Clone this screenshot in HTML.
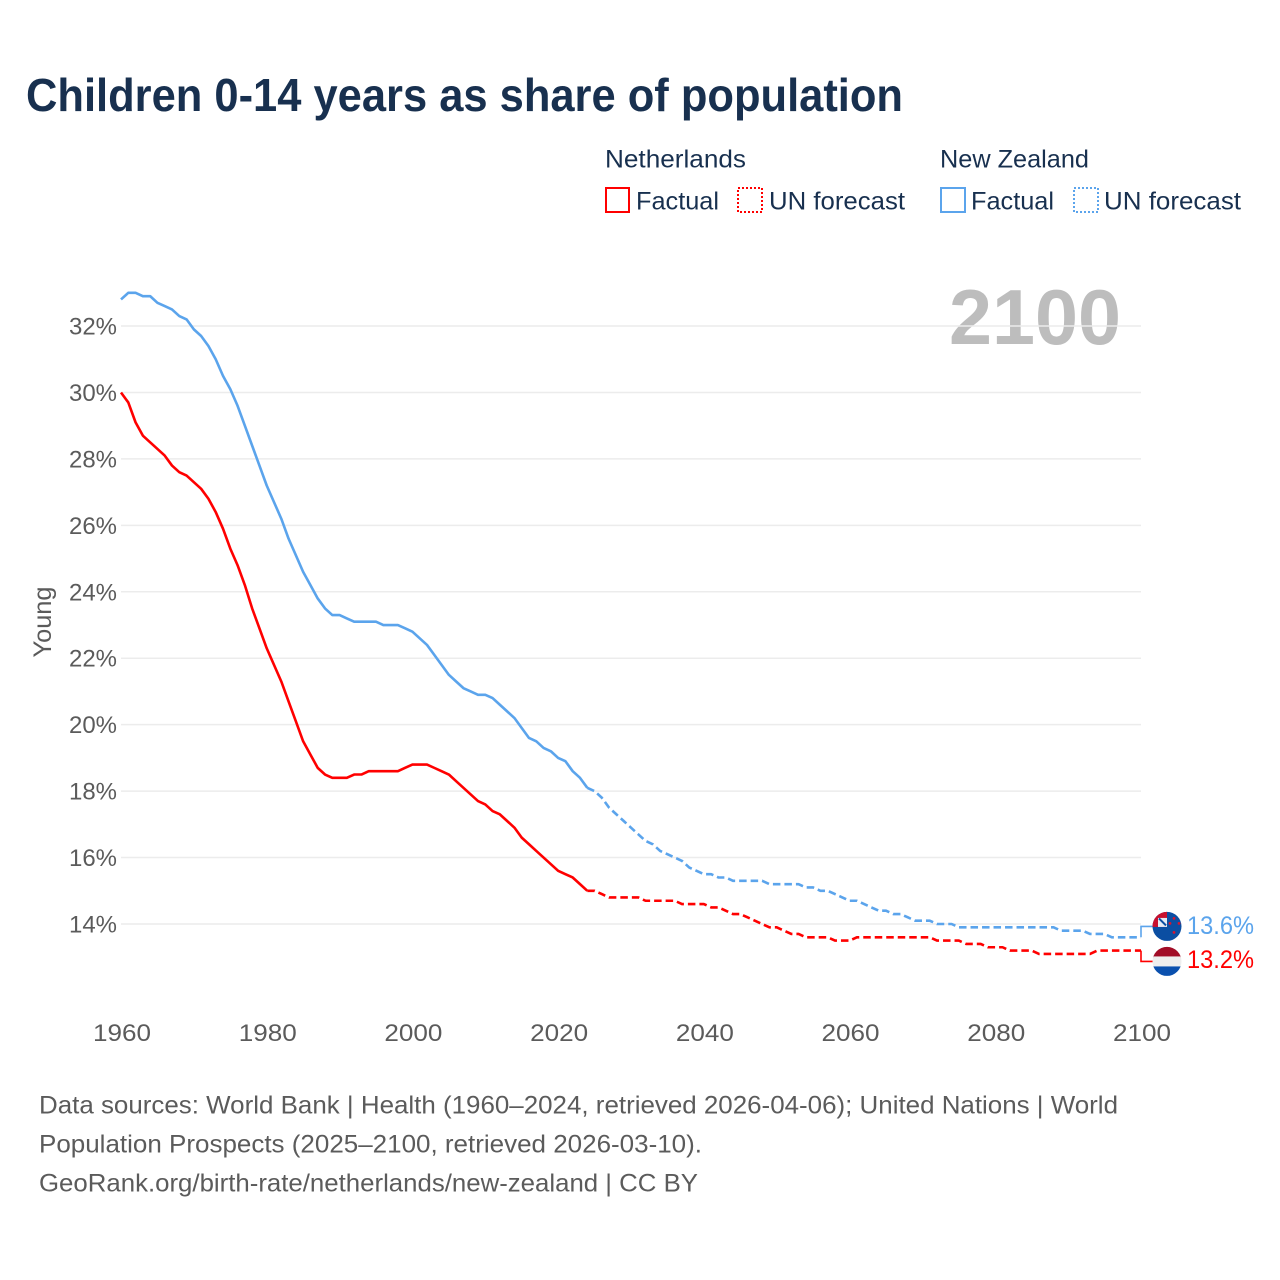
<!DOCTYPE html>
<html lang="en">
<head>
<meta charset="utf-8">
<title>Children 0-14 years as share of population</title>
<style>
  html, body { margin: 0; padding: 0; background: #fff; }
  svg { display: block; font-family: "Liberation Sans", sans-serif; }
</style>
</head>
<body>
<svg id="chart" xmlns="http://www.w3.org/2000/svg" width="1280" height="1280" viewBox="0 0 1280 1280">
  <defs>
    <clipPath id="clip-nz"><circle id="clip-nz-circle" cx="1167" cy="926" r="14.5"></circle></clipPath>
    <clipPath id="clip-nl"><circle id="clip-nl-circle" cx="1167" cy="960" r="14.5"></circle></clipPath>
  </defs>
  <rect width="1280" height="1280" fill="#ffffff"></rect>
  <text x="26" y="111" font-size="46" font-weight="700" fill="#18304f" textLength="877" lengthAdjust="spacingAndGlyphs">Children 0-14 years as share of population</text>

  <g font-size="25" fill="#18304f">
    <text x="605" y="167.5" textLength="141" lengthAdjust="spacingAndGlyphs">Netherlands</text>
    <text x="940" y="167.5" textLength="149" lengthAdjust="spacingAndGlyphs">New Zealand</text>
    <rect x="606" y="188" width="23" height="24" fill="none" stroke="#ff0000" stroke-width="2"></rect>
    <text x="636" y="209.5" textLength="83" lengthAdjust="spacingAndGlyphs">Factual</text>
    <rect x="738" y="188" width="24" height="24" fill="none" stroke="#ff0000" stroke-width="2" stroke-dasharray="2 2"></rect>
    <text x="769" y="209.5" textLength="136" lengthAdjust="spacingAndGlyphs">UN forecast</text>
    <rect x="941" y="188" width="24" height="24" fill="none" stroke="#5ba4ec" stroke-width="2"></rect>
    <text x="971" y="209.5" textLength="83" lengthAdjust="spacingAndGlyphs">Factual</text>
    <rect x="1074" y="188" width="24" height="24" fill="none" stroke="#5ba4ec" stroke-width="2" stroke-dasharray="2 2"></rect>
    <text x="1104" y="209.5" textLength="137" lengthAdjust="spacingAndGlyphs">UN forecast</text>
  </g>

  <text transform="translate(51 622) rotate(-90)" text-anchor="middle" font-size="25" fill="#5b5b5b" textLength="71" lengthAdjust="spacingAndGlyphs">Young</text>
  <text x="949" y="344" font-size="78" font-weight="700" fill="#bdbdbd" textLength="172" lengthAdjust="spacingAndGlyphs">2100</text>

  <g id="grid"></g>
  <g id="y-ticks" font-size="24" fill="#5b5b5b"></g>
  <g id="x-ticks" font-size="24" fill="#5b5b5b"></g>
  <g id="series"></g>

  <g id="flag-nz" clip-path="url(#clip-nz)"></g>
  <g id="flag-nl" clip-path="url(#clip-nl)"></g>
  <g id="end-labels" font-size="25"></g>

  <g font-size="25" fill="#5b5b5b">
    <text x="39" y="1113.5" textLength="1079" lengthAdjust="spacingAndGlyphs">Data sources: World Bank | Health (1960–2024, retrieved 2026-04-06); United Nations | World</text>
    <text x="39" y="1152.5" textLength="663" lengthAdjust="spacingAndGlyphs">Population Prospects (2025–2100, retrieved 2026-03-10).</text>
    <text x="39" y="1191.5" textLength="659" lengthAdjust="spacingAndGlyphs">GeoRank.org/birth-rate/netherlands/new-zealand | CC BY</text>
  </g>
</svg>

<script>
const xTickYears = [1960, 1980, 2000, 2020, 2040, 2060, 2080, 2100];
const yTickValues = [14, 16, 18, 20, 22, 24, 26, 28, 30, 32];
const factualStartYear = 1960;
const forecastStartYear = 2024;

// 1960..2024
const netherlandsFactual = [
  30.0,29.7,29.1,28.7,28.5,28.3,28.1,27.8,27.6,27.5,
  27.3,27.1,26.8,26.4,25.9,25.3,24.8,24.2,23.5,22.9,
  22.3,21.8,21.3,20.7,20.1,19.5,19.1,18.7,18.5,18.4,
  18.4,18.4,18.5,18.5,18.6,18.6,18.6,18.6,18.6,18.7,
  18.8,18.8,18.8,18.7,18.6,18.5,18.3,18.1,17.9,17.7,
  17.6,17.4,17.3,17.1,16.9,16.6,16.4,16.2,16.0,15.8,
  15.6,15.5,15.4,15.2,15.0
];
// 2024..2100
const netherlandsForecast = [
  15.0,15.0,14.9,14.8,14.8,14.8,14.8,14.8,14.7,14.7,14.7,14.7,14.7,
  14.6,14.6,14.6,14.6,14.5,14.5,14.4,14.3,14.3,14.2,14.1,14.0,13.9,
  13.9,13.8,13.7,13.7,13.6,13.6,13.6,13.6,13.5,13.5,13.5,13.6,13.6,
  13.6,13.6,13.6,13.6,13.6,13.6,13.6,13.6,13.6,13.5,13.5,13.5,13.5,
  13.4,13.4,13.4,13.3,13.3,13.3,13.2,13.2,13.2,13.2,13.1,13.1,13.1,
  13.1,13.1,13.1,13.1,13.1,13.2,13.2,13.2,13.2,13.2,13.2,13.2
];
// 1960..2024
const newZealandFactual = [
  32.8,33.0,33.0,32.9,32.9,32.7,32.6,32.5,32.3,32.2,
  31.9,31.7,31.4,31.0,30.5,30.1,29.6,29.0,28.4,27.8,
  27.2,26.7,26.2,25.6,25.1,24.6,24.2,23.8,23.5,23.3,
  23.3,23.2,23.1,23.1,23.1,23.1,23.0,23.0,23.0,22.9,
  22.8,22.6,22.4,22.1,21.8,21.5,21.3,21.1,21.0,20.9,
  20.9,20.8,20.6,20.4,20.2,19.9,19.6,19.5,19.3,19.2,
  19.0,18.9,18.6,18.4,18.1
];
// 2024..2100
const newZealandForecast = [
  18.1,18.0,17.8,17.5,17.3,17.1,16.9,16.7,16.5,16.4,16.2,16.1,16.0,
  15.9,15.7,15.6,15.5,15.5,15.4,15.4,15.3,15.3,15.3,15.3,15.3,15.2,
  15.2,15.2,15.2,15.2,15.1,15.1,15.0,15.0,14.9,14.8,14.7,14.7,14.6,
  14.5,14.4,14.4,14.3,14.3,14.2,14.1,14.1,14.1,14.0,14.0,14.0,13.9,
  13.9,13.9,13.9,13.9,13.9,13.9,13.9,13.9,13.9,13.9,13.9,13.9,13.9,
  13.8,13.8,13.8,13.8,13.7,13.7,13.7,13.6,13.6,13.6,13.6,13.6
];

const SVG_NS = 'http://www.w3.org/2000/svg';
const plotLeft = 121, plotRight = 1141;
const xScale = function (year) { return plotLeft + (year - 1960) * (plotRight - plotLeft) / 140; };
const yScale = function (value) { return 924 - (value - 14) * 33.22; };

function make(tag, parent, attrs) {
  const el = document.createElementNS(SVG_NS, tag);
  for (const key in attrs) el.setAttribute(key, attrs[key]);
  parent.appendChild(el);
  return el;
}

const gridGroup = document.getElementById('grid');
const yTickGroup = document.getElementById('y-ticks');
yTickValues.forEach(function (value) {
  const y = yScale(value);
  const line = make('line', gridGroup, { x1: plotLeft, x2: plotRight, y1: y, y2: y, stroke: '#ececec', 'stroke-width': 1.5 });
  
  
  const label = make('text', yTickGroup, { x: 117, y: y + 8.5, 'text-anchor': 'end', textLength: 48, lengthAdjust: 'spacingAndGlyphs' });
  
  
  label.textContent = value + '%';
});

const xTickGroup = document.getElementById('x-ticks');
xTickYears.forEach(function (year) {
  const label = make('text', xTickGroup, { x: xScale(year) + 1, y: 1041, 'text-anchor': 'middle', textLength: 58, lengthAdjust: 'spacingAndGlyphs' });
  
  
  label.textContent = year;
});

function linePath(values, startYear) {
  return values.map(function (value, i) {
    return (i ? 'L' : 'M') + xScale(startYear + i).toFixed(2) + ' ' + yScale(value).toFixed(2);
  }).join(' ');
}

const seriesGroup = document.getElementById('series');
function drawSeries(values, startYear, color, dash, name) {
  const attrs = { d: linePath(values, startYear), fill: 'none', stroke: color, 'stroke-width': 2.6, 'stroke-linejoin': 'round' };
  if (dash) attrs['stroke-dasharray'] = dash;
  const path = make('path', seriesGroup, attrs);
  
  
}
const nlColor = '#ff0000', nzColor = '#5ba4ec';
drawSeries(newZealandFactual, factualStartYear, nzColor, null, 'line-new-zealand-factual');
drawSeries(newZealandForecast, forecastStartYear, nzColor, '7.5 4', 'line-new-zealand-forecast');
drawSeries(netherlandsFactual, factualStartYear, nlColor, null, 'line-netherlands-factual');
drawSeries(netherlandsForecast, forecastStartYear, nlColor, '7.5 4', 'line-netherlands-forecast');

const nzLast = newZealandForecast[newZealandForecast.length - 1];
const nlLast = netherlandsForecast[netherlandsForecast.length - 1];
const nzEndY = yScale(nzLast), nlEndY = yScale(nlLast);
const midEnd = (nzEndY + nlEndY) / 2;
const nzTop = nzEndY <= nlEndY;
const nzLabelY = midEnd + (nzTop ? -17.5 : 17.5);
const nlLabelY = midEnd + (nzTop ? 17.5 : -17.5);

function connector(endY, labelY, color, name) {
  const path = make('path', seriesGroup, {
    d: 'M' + plotRight + ' ' + endY.toFixed(2) + ' V' + labelY.toFixed(2) + ' H1153',
    fill: 'none', stroke: color, 'stroke-width': 1.6
  });
  
  
}
connector(nzEndY, nzLabelY, nzColor, 'connector-new-zealand');
connector(nlEndY, nlLabelY, nlColor, 'connector-netherlands');

document.getElementById('clip-nz-circle').setAttribute('cy', nzLabelY);
document.getElementById('clip-nl-circle').setAttribute('cy', nlLabelY);

const nzFlag = document.getElementById('flag-nz');
const fx = 1152, nzy = nzLabelY - 15;
make('rect', nzFlag, { x: fx, y: nzy, width: 30, height: 31, fill: '#0b4ea2' });
make('rect', nzFlag, { x: fx, y: nzy, width: 15, height: 15.5, fill: '#c8102e' });
make('rect', nzFlag, { x: fx + 6, y: nzy + 6.5, width: 9, height: 9, fill: '#e6ebf4' });
make('path', nzFlag, { d: 'M' + (fx + 7) + ' ' + (nzy + 7) + ' l7 7', stroke: '#0b4ea2', 'stroke-width': 2, fill: 'none' });
[[18, 12], [27, 12], [22, 7], [22, 21]].forEach(function (s) {
  make('circle', nzFlag, { cx: fx + s[0], cy: nzy + s[1], r: 1.4, fill: '#d8152f' });
});

const nlFlag = document.getElementById('flag-nl');
const nly = nlLabelY - 15;
make('rect', nlFlag, { x: fx, y: nly, width: 30, height: 11, fill: '#a20d27' });
make('rect', nlFlag, { x: fx, y: nly + 10, width: 30, height: 11, fill: '#eeeeee' });
make('rect', nlFlag, { x: fx, y: nly + 20, width: 30, height: 11, fill: '#0a50ae' });

const endGroup = document.getElementById('end-labels');
const nzEnd = make('text', endGroup, { x: 1187, y: nzLabelY + 7.5, fill: nzColor, textLength: 67, lengthAdjust: 'spacingAndGlyphs' });


nzEnd.textContent = nzLast.toFixed(1) + '%';
const nlEnd = make('text', endGroup, { x: 1187, y: nlLabelY + 6.5, fill: nlColor, textLength: 67, lengthAdjust: 'spacingAndGlyphs' });


nlEnd.textContent = nlLast.toFixed(1) + '%';
</script>
</body>
</html>
